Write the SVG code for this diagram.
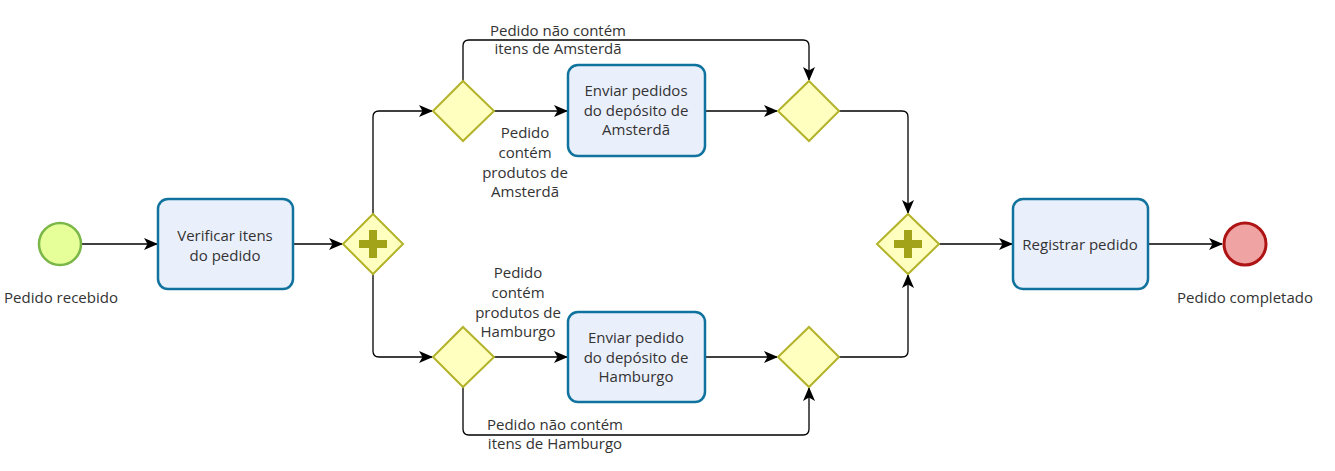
<svg xmlns="http://www.w3.org/2000/svg" width="1335" height="471" viewBox="0 0 1335 471">
<style>
text{font-family:"Open Sans","Noto Sans","Liberation Sans",sans-serif;font-size:15px;fill:#333;text-anchor:middle;dominant-baseline:central}
.task{fill:#eaeffc;stroke:#10739e;stroke-width:2.5}
.gw{fill:#ffffc0;stroke:#b3b32b;stroke-width:2}
.plus{fill:#a3a31a}
.edge{fill:none;stroke:#000;stroke-width:1.3}
</style>
<defs>
<marker id="arr" viewBox="0 0 14 12" refX="13" refY="6" markerWidth="14" markerHeight="12" markerUnits="userSpaceOnUse" orient="auto">
<path d="M0,0 L14,6 L0,12 L3.5,6 z" fill="#000"/>
</marker>
</defs>
<rect width="1335" height="471" fill="#fff"/>
<g id="connectors">
<path class="edge" d="M82,244 H157" marker-end="url(#arr)"/>
<path class="edge" d="M293,244 H342" marker-end="url(#arr)"/>
<path class="edge" d="M373,214 V117 Q373,111 379,111 H432" marker-end="url(#arr)"/>
<path class="edge" d="M373,274 V351 Q373,357 379,357 H432" marker-end="url(#arr)"/>
<path class="edge" d="M463,81 V46 Q463,40 469,40 H803 Q809,40 809,46 V80" marker-end="url(#arr)"/>
<path class="edge" d="M494,111 H567" marker-end="url(#arr)"/>
<path class="edge" d="M705,111 H777" marker-end="url(#arr)"/>
<path class="edge" d="M463,387 V429 Q463,435 469,435 H803 Q809,435 809,429 V388" marker-end="url(#arr)"/>
<path class="edge" d="M494,357 H567" marker-end="url(#arr)"/>
<path class="edge" d="M705,357 H777" marker-end="url(#arr)"/>
<path class="edge" d="M839,111 H902 Q908,111 908,117 V213" marker-end="url(#arr)"/>
<path class="edge" d="M839,357 H902 Q908,357 908,351 V275" marker-end="url(#arr)"/>
<path class="edge" d="M939,244 H1012" marker-end="url(#arr)"/>
<path class="edge" d="M1148,244 H1222" marker-end="url(#arr)"/>
<text x="558" y="30">Pedido não contém</text>
<text x="558" y="48">itens de Amsterdã</text>
<text x="525" y="132">Pedido</text>
<text x="525" y="152">contém</text>
<text x="525" y="172">produtos de</text>
<text x="525" y="191">Amsterdã</text>
<text x="518" y="272">Pedido</text>
<text x="518" y="292">contém</text>
<text x="518" y="312">produtos de</text>
<text x="518" y="331">Hamburgo</text>
<text x="555" y="424">Pedido não contém</text>
<text x="555" y="443">itens de Hamburgo</text>
</g>
<g id="start">
<circle cx="60" cy="244" r="21" fill="#e6ff99" stroke="#7ab648" stroke-width="2.5"/>
<text x="61" y="297">Pedido recebido</text>
</g>
<g id="verificar">
<rect class="task" x="158" y="199" width="135" height="90" rx="10"/>
<text x="225" y="235">Verificar itens</text>
<text x="225" y="255">do pedido</text>
</g>
<g id="split">
<path class="gw" d="M373,214 L403,244 L373,274 L343,244 Z"/>
<path class="plus" d="M369,230 H377 V240 H387 V248 H377 V258 H369 V248 H359 V240 H369 Z"/>
</g>
<g id="gwA">
<path class="gw" d="M463,81 L494,111 L463,141 L433,111 Z"/>
</g>
<g id="taskA">
<rect class="task" x="568" y="65" width="137" height="91" rx="10"/>
<text x="636" y="90">Enviar pedidos</text>
<text x="636" y="110">do depósito de</text>
<text x="636" y="129">Amsterdã</text>
</g>
<g id="mergeA">
<path class="gw" d="M809,81 L839,111 L809,141 L778,111 Z"/>
</g>
<g id="gwH">
<path class="gw" d="M463,327 L494,357 L463,387 L433,357 Z"/>
</g>
<g id="taskH">
<rect class="task" x="568" y="312" width="137" height="90" rx="10"/>
<text x="636" y="337">Enviar pedido</text>
<text x="636" y="357">do depósito de</text>
<text x="636" y="376">Hamburgo</text>
</g>
<g id="mergeH">
<path class="gw" d="M809,327 L839,357 L809,387 L778,357 Z"/>
</g>
<g id="join">
<path class="gw" d="M908,214 L939,244 L908,274 L877,244 Z"/>
<path class="plus" d="M904,230 H912 V240 H922 V248 H912 V258 H904 V248 H894 V240 H904 Z"/>
</g>
<g id="registrar">
<rect class="task" x="1013" y="199" width="135" height="90" rx="10"/>
<text x="1080" y="244">Registrar pedido</text>
</g>
<g id="end">
<circle cx="1245" cy="244" r="21" fill="#f0a3a3" stroke="#ae1414" stroke-width="3"/>
<text x="1245" y="297">Pedido completado</text>
</g>
</svg>
